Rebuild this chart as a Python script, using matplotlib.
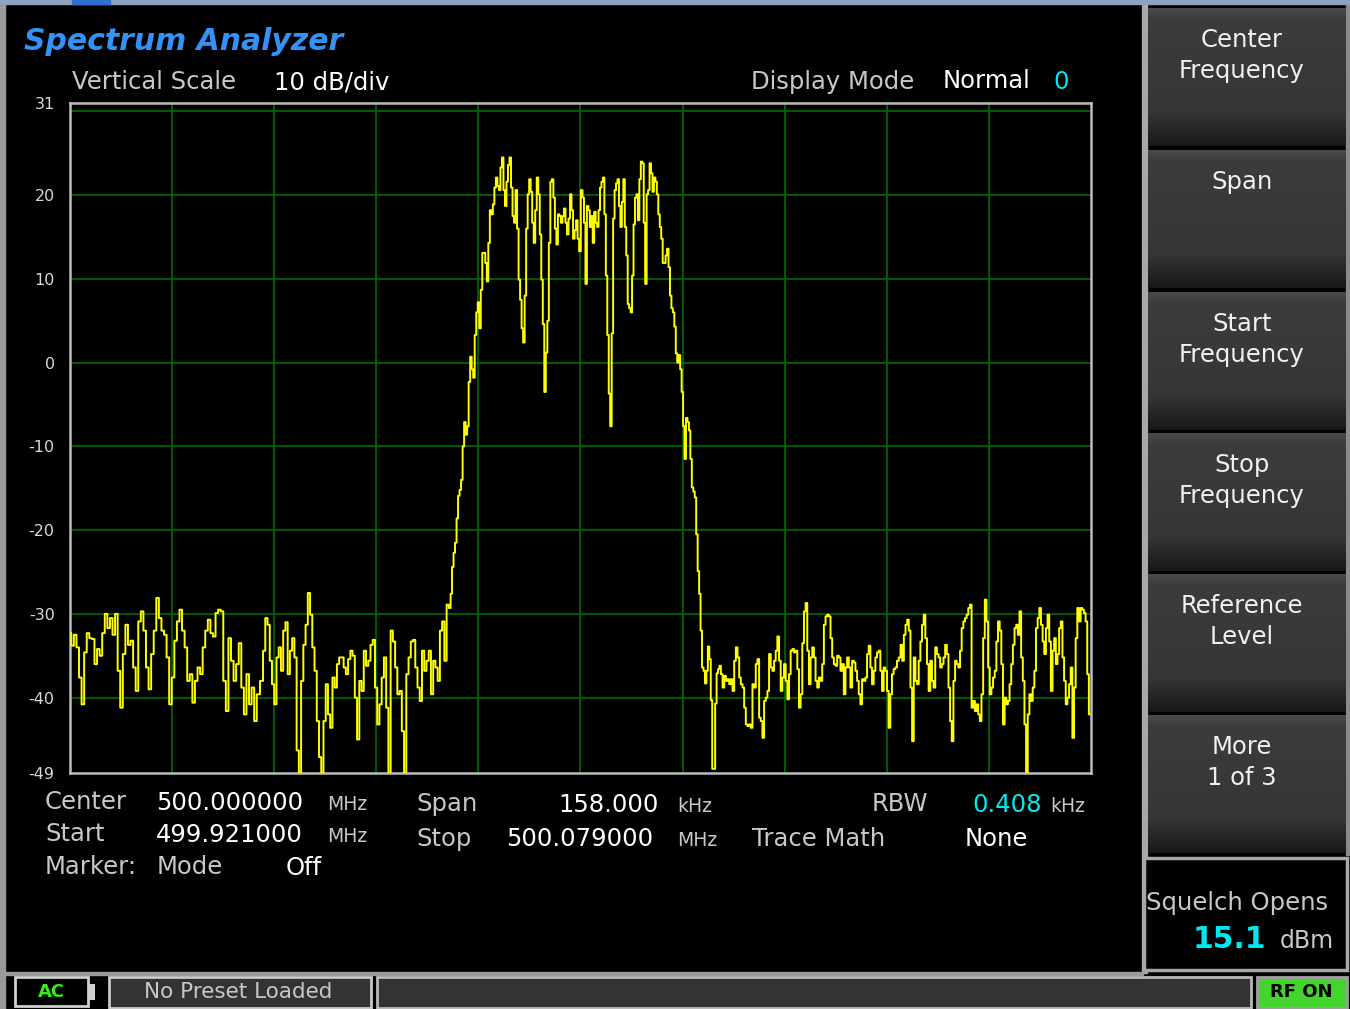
import numpy as np
import matplotlib
matplotlib.use("Agg")
import matplotlib.pyplot as plt
from matplotlib.patches import Rectangle

# sweep settings
center_mhz = 500.0
start_mhz = 499.921
stop_mhz = 500.079
top_db = 31
bottom_db = -49
y_ticks = [31, 20, 10, 0, -10, -20, -30, -40, -49]
grid_db = [30, 20, 10, 0, -10, -20, -30, -40]

# trace in six chunks; each chunk spans (start, stop) kHz from center
seg_khz = [(-79.0, -49.9), (-49.3, -20.2), (-20.0, -0.1), (0.2, 21.4), (21.6, 49.1), (49.4, 78.8)]
seg1_db = [-32.3, -33.8, -32.5, -34, -37.6, -40.8, -34.6, -32.3, -32.9, -33, -36, -34.2, -35, -32.3,
           -30, -31.7, -30.5, -32.5, -30, -36.8, -41.2, -34.8, -31.3, -33.7, -33.2, -36.4, -39.2,
           -30.9, -29.7, -32, -36.4, -39, -34.8, -32, -28.1, -30.5, -32, -32.5, -35.2, -40.8, -37.6,
           -33.2, -30.9, -29.5, -32, -34, -38, -37.2, -40.6, -38, -36.4, -37.2, -34, -32, -30.7,
           -32.3, -32.7, -29.9, -29.5, -29.7, -38, -41.6, -32.9, -35.6, -38, -36, -33.5, -38.8, -42,
           -37.2, -40.8, -38.8, -42.8, -39.6]
seg2_db = [-38, -34.4, -30.5, -31.3, -35.6, -38.4, -40.8, -35.2, -34, -36.8, -32, -31, -37.2, -34.4,
           -32.9, -35.2, -46.3, -49, -38, -33.7, -31.3, -27.5, -30.1, -34, -36.8, -42.8, -47.1, -49,
           -42.8, -38.4, -42, -43.6, -37.6, -38.8, -36, -35.2, -35.2, -36.4, -37.2, -35.4, -34.4,
           -35, -40, -45, -38, -39.2, -34.4, -36.2, -35.6, -33.7, -33.1, -38.8, -43.2, -40.8, -37.6,
           -35.2, -41.2, -49, -32, -33.3, -36.4, -39.6, -39.2, -44, -49, -37.2, -35.2, -33.3, -33.1,
           -36.4, -38.8, -40.4, -34.4, -36.8, -35.6, -34.4, -39.6, -35.6, -36.4, -38, -32, -30.9,
           -35.6, -28.9, -29.3]
seg3_db = [-27.6, -24.4, -22.7, -21.5, -18.6, -15.9, -15.2, -14, -10, -7.1, -8.6, -7.6, -2.3, 0.7,
           -0.8, -1.8, 3.3, 6, 7.2, 4.1, 8.7, 13.1, 13.1, 11.9, 9.7, 14.3, 18.2, 17.7, 18.9, 20.9,
           22.1, 21.1, 20.6, 23.3, 24.5, 20.6, 18.7, 21.6, 23.6, 24.5, 20.9, 17.5, 16.7, 20.6, 16,
           9.9, 7.5, 4.1, 2.4, 8, 16, 20.1, 21.9, 20.4, 16.7, 14.3, 18.2, 22.1, 20.1, 15.3, 9.9, 4.6,
           -3.5, 1.2, 5, 14.3, 21.6, 21.9, 19.7, 16, 14.1, 17.7, 17.5, 16.7, 17.5, 18.4, 16.7, 15.3,
           17.2, 20.1, 18.2, 14.8, 15.8, 17, 14.8, 13.3]
seg4_db = [20.6, 19.7, 16.7, 9.4, 18.7, 18.2, 16.2, 17.5, 14.3, 18, 16.7, 16.2, 18.2, 20.9, 21.6,
           22.1, 17.7, 10.4, 3.3, -3.7, -7.6, 3.5, 17.2, 20.6, 21.4, 21.9, 18.7, 16.2, 19.2, 21.9,
           16.2, 12.8, 7, 6.5, 6, 10.4, 16.5, 19.7, 20.1, 17, 21.9, 24, 23.8, 16.7, 9.4, 20.1, 20.6,
           23.8, 22.6, 20.4, 22.1, 21.6, 20.1, 17.7, 16.2, 14.8, 11.9, 11.9, 12.8, 13.6, 11.4, 8,
           6.5, 6, 4.3, 1.1, 0, 0.9, -0.8, -3.5, -7.6, -11.5, -6.6, -7.1, -8.1, -11.5, -14.9, -15.4,
           -16.1, -20.5, -24.9, -27.6, -32, -36.4, -36.8, -38.3, -36.8, -33.9, -35.4, -40.3, -48.5,
           -48.5, -40.7, -37.1, -36.6]
seg5_db = [-36.2, -37.2, -38.8, -37.4, -38, -37.8, -38.4, -37.8, -39.2, -35.6, -34, -35.2, -37.6,
           -38.4, -38.8, -41.2, -43.2, -43.4, -43.2, -43.6, -38.4, -38.8, -36, -35.4, -42.4, -42.8,
           -44.8, -40.4, -40, -39.2, -34.8, -36.4, -36.8, -35.6, -34.4, -32.7, -35.6, -39.2, -37.6,
           -36, -38, -40.2, -37.2, -34.4, -34.2, -34.6, -34.4, -36.6, -41.2, -39.6, -33.5, -29.7,
           -28.7, -34.4, -38.4, -35.2, -34, -35.2, -38, -38.8, -37.6, -38, -36, -31.3, -30.3, -30.1,
           -30.3, -32.9, -35.2, -36, -36.2, -35, -35.2, -36.8, -36, -39.6, -36.4, -35.2, -36.4,
           -38.8, -35.6, -35.8, -36.8, -38, -39.6, -40.8, -37.8, -38, -37.6, -34.8, -33.8, -36.4,
           -38.4, -36.8, -35.2, -34.6, -34.4, -36.8, -39.2, -36.4, -36.8, -39.2, -43.6, -39.6,
           -37.2, -36.6, -36.4, -35.6]
seg6_db = [-35.2, -33.7, -35.6, -32.5, -31.3, -30.7, -32, -38.8, -45.2, -35.2, -38, -38.4, -35.6,
           -33.3, -31.3, -30.1, -32.9, -36, -39.2, -35.6, -38, -38.8, -34, -34.8, -35.2, -36.4, -36,
           -35.2, -33.7, -34.8, -38.8, -42.8, -45.2, -38, -35.6, -36, -36.4, -34.4, -31.7, -30.9,
           -30.5, -30.1, -29.3, -28.9, -41.2, -40.4, -41.6, -40.8, -42, -42.8, -39.6, -32.9, -28.3,
           -30.9, -36.4, -39.6, -38.8, -37.6, -36.8, -33.3, -30.9, -32, -36, -43.2, -40, -40.8,
           -40.4, -38.4, -36, -33.7, -31.7, -31.3, -32.5, -29.7, -35.2, -38, -43.2, -49, -42,
           -39.6, -40.4, -38.8, -36.8, -31.7, -30.5, -29.3, -31.3, -33.3, -34.8, -31.7, -30.1,
           -33.3, -39.2, -34.4, -32.9, -36, -34.8, -31.7, -30.9, -35.2, -38, -40.8, -40, -38.4,
           -36.4, -44.8, -38.8, -32.9, -29.3, -30.9, -29.3, -29.5, -29.9, -30.9, -37.2, -42]
segments = [seg1_db, seg2_db, seg3_db, seg4_db, seg5_db, seg6_db]

buttons = ["Center\nFrequency", "Span", "Start\nFrequency", "Stop\nFrequency",
           "Reference\nLevel", "More\n1 of 3"]

W, H = 1350, 1009
GRAY = "#c8c8c8"
CYAN = "#00e8f0"
BIG = 17.5   # main label size
SMALL = 13.5  # unit size

freq = np.concatenate([center_mhz + np.linspace(a, b, len(v)) / 1000.0
                       for (a, b), v in zip(seg_khz, segments)])
level = np.concatenate(segments)

fig = plt.figure(figsize=(W / 100, H / 100), dpi=100, facecolor="black")

# pixel-space overlay for the instrument chrome
bg = fig.add_axes([0, 0, 1, 1])
bg.axis("off")
bg.set_facecolor("black")

bg.add_patch(Rectangle((0, 0), 5, H, color="#9a9a9a"))
bg.add_patch(Rectangle((0, 0), W, 4, color="#8fa2bd"))
bg.add_patch(Rectangle((72, 0), 38, 4, color="#2f6fd0"))


def txt(x, y, s, size=BIG, color=GRAY, **kw):
    bg.text(x, y, s, fontsize=size, color=color, va="baseline", **kw)


txt(24, 50, "Spectrum Analyzer", size=21.5, color="#3392f5", fontweight="bold", style="italic")
txt(72, 89, "Vertical Scale")
txt(274, 89, "10 dB/div", color="white")
txt(751, 89, "Display Mode")
txt(943, 88, "Normal", color="white")
txt(1053, 89, "0", color=CYAN)

# bottom readouts
txt(45, 809, "Center")
txt(156, 810, "500.000000", color="white")
txt(327, 810, "MHz", size=SMALL)
txt(416, 811, "Span")
txt(558, 812, "158.000", color="white")
txt(677, 812, "kHz", size=SMALL)
txt(872, 811, "RBW")
txt(972, 812, "0.408", color=CYAN)
txt(1050, 812, "kHz", size=SMALL)
txt(45, 841, "Start")
txt(156, 842, "499.921000", color="white")
txt(327, 842, "MHz", size=SMALL)
txt(416, 846, "Stop")
txt(506, 846, "500.079000", color="white")
txt(677, 846, "MHz", size=SMALL)
txt(752, 846, "Trace Math")
txt(965, 846, "None", color="white")
txt(45, 874, "Marker:")
txt(157, 874, "Mode")
txt(286, 875, "Off", color="white")

# soft-key column
bg.add_patch(Rectangle((1142, 5), 5, 968, color="#a8a8a8"))
bg.add_patch(Rectangle((1346, 5), 3, 850, color="#8a8a8a"))
stops = np.array([0, 0.08, 0.75, 1.0])
shades = np.array([0x4a, 0x3c, 0x36, 0x18]) / 255.0
col = np.interp(np.linspace(0, 1, 140), stops, shades)
grad = np.repeat(col[:, None, None], 3, axis=2)
tops = [8, 150, 292, 433, 574, 715]
for top, lab in zip(tops, buttons):
    bg.imshow(grad, extent=[1148, 1346, top + 138, top], aspect="auto", zorder=1)
    for k, line in enumerate(lab.split("\n")):
        bg.text(1242, top + 39 + 31 * k, line, fontsize=BIG, color="#f0f0f0",
                ha="center", va="baseline", zorder=2)

bg.add_patch(Rectangle((1144, 858), 203, 112, facecolor="black", edgecolor="#a8a8a8", lw=2.5))
txt(1146, 910, "Squelch Opens")
txt(1193, 948, "15.1", size=21.5, color=CYAN, fontweight="bold")
txt(1280, 948, "dBm", size=17)

# status bar
bg.add_patch(Rectangle((0, 972), 1143, 3, color="#9a9a9a"))
bg.add_patch(Rectangle((15, 977), 73, 29, facecolor="black", edgecolor="#d0d0d0", lw=2))
bg.add_patch(Rectangle((89, 984), 6, 16, facecolor="#cfcfcf"))
bg.text(51, 992, "AC", fontsize=13, color="#33ee11", fontweight="bold", ha="center", va="center")
bg.add_patch(Rectangle((109, 977), 262, 31, facecolor="#333333", edgecolor="#c8c8c8", lw=2))
bg.text(238, 992, "No Preset Loaded", fontsize=15.5, color=GRAY, ha="center", va="center")
bg.add_patch(Rectangle((377, 977), 874, 31, facecolor="#333333", edgecolor="#b8b8b8", lw=2))
bg.add_patch(Rectangle((1257, 977), 90, 31, facecolor="#44d42e", edgecolor="#a0a0a0", lw=2))
bg.text(1301, 992, "RF ON", fontsize=13, color="black", fontweight="bold", ha="center",
        va="center")

bg.set_xlim(0, W)
bg.set_ylim(H, 0)

# trace display
ax = fig.add_axes([70 / W, 1 - 773 / H, (1091 - 70) / W, (773 - 103) / H])
ax.set_facecolor("black")
ax.set_xlim(start_mhz, stop_mhz)
ax.set_ylim(bottom_db, top_db)
for g in grid_db:
    ax.axhline(g, color="#006a00", lw=1.2, zorder=1)
for xv in np.linspace(start_mhz, stop_mhz, 11)[1:-1]:
    ax.axvline(xv, color="#006a00", lw=1.2, zorder=1)
ax.plot(freq, level, color="#ffff00", lw=1.4, drawstyle="steps-mid", zorder=3)
ax.set_xticks([])
ax.set_yticks(y_ticks)
ax.set_yticklabels([str(v) for v in y_ticks])
ax.tick_params(axis="y", length=0, pad=11, labelsize=11.5, labelcolor="#d8d8d8")
for sp in ax.spines.values():
    sp.set_color("#bdbdbd")
    sp.set_linewidth(1.8)

fig.savefig("out.png", dpi=100, facecolor="black")
